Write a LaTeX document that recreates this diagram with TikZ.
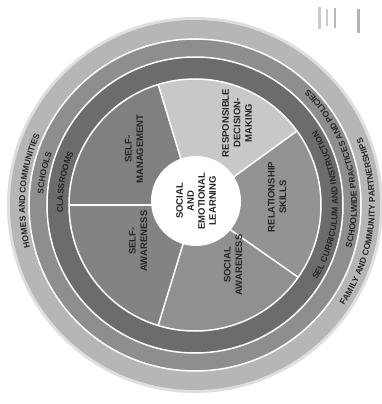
\documentclass[tikz,border=0pt]{standalone}
\usepackage{fontspec}
\setmainfont{Liberation Sans}
\usetikzlibrary{decorations.text}
\definecolor{outerband}{HTML}{B6B6B6}
\definecolor{midband}{HTML}{8E8E8E}
\definecolor{darkband}{HTML}{6C6C6C}
\definecolor{segSM}{HTML}{808080}
\definecolor{segRDM}{HTML}{C8C8C8}
\definecolor{segRS}{HTML}{939393}
\definecolor{segSA}{HTML}{909090}
\definecolor{segSAw}{HTML}{838383}
\definecolor{ink}{HTML}{262626}
\tikzset{
  seglabel/.style={rotate=90, align=center, text=ink, font=\bfseries\fontsize{9.5}{11.5}\selectfont, inner sep=0pt},
  sep/.style={white, line width=1.5pt},
  ringtext/.style={decorate, decoration={text along path, text align=center,
      text={|\bfseries\fontsize{8.5}{9}\selectfont\color{ink}|#1}}},
  scanmark/.style={fill=gray!40}
}
\begin{document}
\begin{tikzpicture}[x=1pt,y=1pt]
\useasboundingbox (-195,-199) rectangle (186,205);
\fill[white] (-195,-199) rectangle (186,205);
% rings
\fill[outerband!45] (0,0) circle (188);
\fill[outerband] (0,0) circle (185);
\fill[midband] (0,0) circle (166);
\fill[darkband] (0,0) circle (148);
% segments
\foreach \a/\b/\c in {107/180/segSM, 36/107/segRDM, -35/36/segRS, -107/-35/segSA, 180/253/segSAw}
  \fill[\c] (0,0) -- (\a:126) arc[start angle=\a, end angle=\b, radius=126] -- cycle;
% white separators
\draw[sep] (0,0) circle (126) (0,0) circle (148) (0,0) circle (166);
\foreach \a in {180,107,36,-35,-107} \draw[sep] (0,0) -- (\a:126);
% centre
\node[circle, fill=white, minimum size=90pt, inner sep=0pt, rotate=90, align=center, text=ink,
      font=\bfseries\fontsize{9.5}{11}\selectfont] (sel) at (1,4) {SOCIAL\\AND\\EMOTIONAL\\LEARNING};
% segment labels
\node[seglabel] (sm) at (-61,56) {SELF-\\MANAGEMENT};
\node[seglabel] (saw) at (-57,-36) {SELF-\\AWARENESS};
\node[seglabel] (rdm) at (42,82) {RESPONSIBLE\\DECISION-\\MAKING};
\node[seglabel] (rs) at (82,8) {RELATIONSHIP\\SKILLS};
\node[seglabel] (sa) at (38,-60) {SOCIAL\\AWARENESS};
% ring texts, left side (reading upward, tops outward)
\path[ringtext={HOMES AND COMMUNITIES}] (220:170) arc[start angle=220, end angle=130, radius=170];
\path[ringtext={SCHOOLS}] (200:152) arc[start angle=200, end angle=136, radius=152];
\path[ringtext={CLASSROOMS}] (205:132) arc[start angle=205, end angle=135, radius=132];
% ring texts, right side (reading upward, tops inward)
\path[ringtext={FAMILY AND COMMUNITY PARTNERSHIPS}] (-55:180) arc[start angle=-55, end angle=43, radius=180];
\path[ringtext={SCHOOLWIDE PRACTICES AND POLICIES}] (-48:162) arc[start angle=-48, end angle=78, radius=162];
\path[ringtext={SEL CURRICULUM AND INSTRUCTION}] (-55:143) arc[start angle=-55, end angle=55, radius=143];
% scan marks at top right
\fill[scanmark] (123,198) rectangle (126,176);
\fill[scanmark] (131,196) rectangle (133,179);
\fill[gray!55] (139,197) rectangle (141,177);
\fill[gray!60] (162,196) rectangle (165,172);
\end{tikzpicture}
\end{document}
